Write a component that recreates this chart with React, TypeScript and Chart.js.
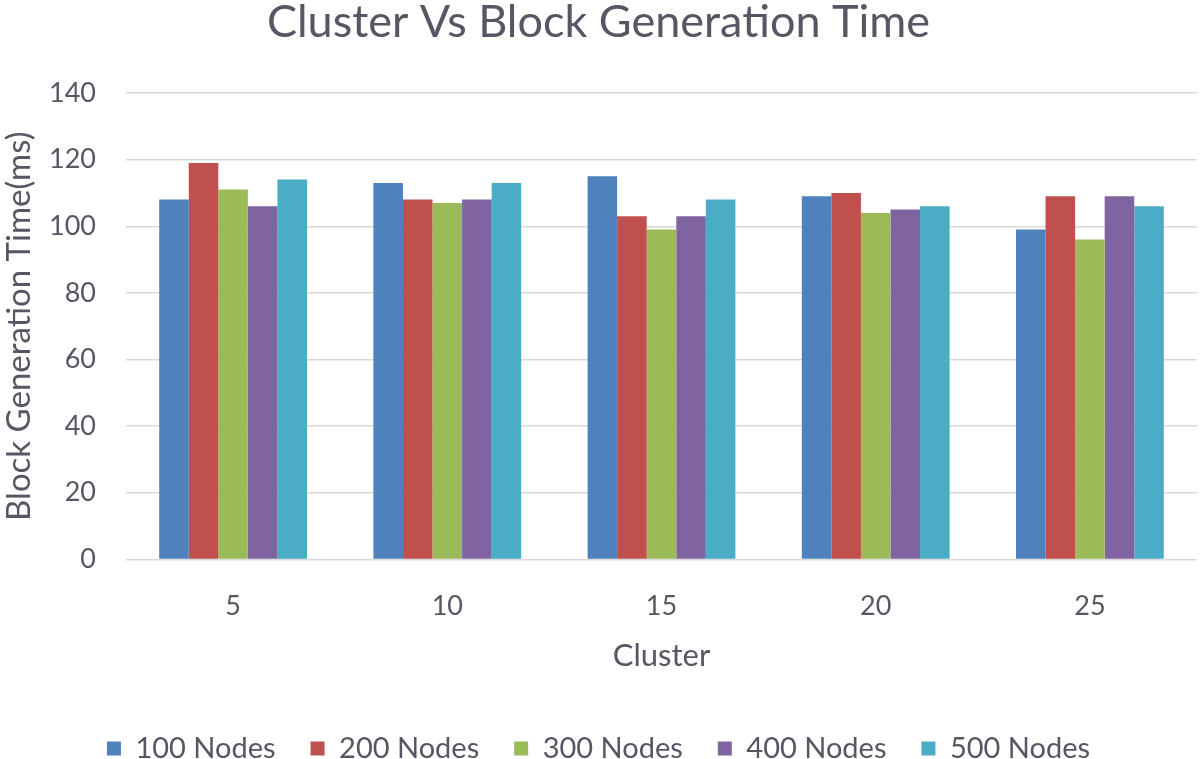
import React, { useEffect, useRef } from "react";
import { Chart, registerables } from "chart.js";

Chart.register(...registerables);

const categories = ["5", "10", "15", "20", "25"];
const seriesNames = ["100 Nodes", "200 Nodes", "300 Nodes", "400 Nodes", "500 Nodes"];
const nodes100 = [108, 113, 115, 109, 99];
const nodes200 = [119, 108, 103, 110, 109];
const nodes300 = [111, 107, 99, 104, 96];
const nodes400 = [106, 108, 103, 105, 109];
const nodes500 = [114, 113, 108, 106, 106];
const seriesColors = ["#4F81BD", "#C0504D", "#9BBB59", "#8064A2", "#4BACC6"];
const yTicks = [0, 20, 40, 60, 80, 100, 120, 140];

const TEXT = "#595563";
const FONT = "Lato, 'Open Sans', sans-serif";

export default function App() {
  const ref = useRef<HTMLCanvasElement | null>(null);
  useEffect(() => {
    document.body.style.margin = "0";
    const ctx = ref.current;
    if (!ctx) return;
    const values = [nodes100, nodes200, nodes300, nodes400, nodes500];
    const chart = new Chart(ctx, {
      type: "bar",
      data: {
        labels: categories,
        datasets: seriesNames.map((n, i) => ({
          label: n,
          data: values[i],
          backgroundColor: seriesColors[i],
          borderWidth: 0,
          categoryPercentage: 0.69,
          barPercentage: 1,
        })),
      },
      options: {
        responsive: false,
        animation: false,
        layout: { padding: { left: 0, right: 3, top: 0, bottom: -14 } },
        plugins: {
          title: {
            display: true,
            text: "Cluster Vs Block Generation Time",
            color: TEXT,
            font: { family: FONT, size: 45, weight: "normal", lineHeight: 1.0 },
            padding: { top: 0, bottom: 48 },
          },
          legend: {
            position: "bottom",
            labels: {
              color: TEXT,
              font: { family: FONT, size: 29 },
              boxWidth: 14,
              boxHeight: 14,
              padding: 35,
            },
          },
          tooltip: { enabled: false },
        },
        scales: {
          x: {
            grid: { display: false },
            border: { display: false },
            ticks: { color: TEXT, font: { family: FONT, size: 27 }, padding: 23 },
            title: {
              display: true,
              text: "Cluster",
              color: TEXT,
              font: { family: FONT, size: 31 },
              padding: { top: -8, bottom: 24 },
            },
          },
          y: {
            min: 0,
            max: 140,
            afterBuildTicks: (s: any) => {
              s.ticks = yTicks.map((v) => ({ value: v }));
            },
            afterFit: (s: any) => {
              s.width = 126;
            },
            grid: { color: "#D9D9D9", drawTicks: false, lineWidth: 1.5 },
            border: { display: false },
            ticks: { color: TEXT, font: { family: FONT, size: 27 }, padding: 30 },
            title: {
              display: true,
              text: "Block Generation Time(ms)",
              color: TEXT,
              font: { family: FONT, size: 33 },
              padding: { top: 0, bottom: 6 },
            },
          },
        },
      },
    });
    return () => chart.destroy();
  }, []);
  return (
    <div style={{ width: 1200, height: 759, background: "#fff" }}>
      <canvas ref={ref} width={1200} height={759} />
    </div>
  );
}
